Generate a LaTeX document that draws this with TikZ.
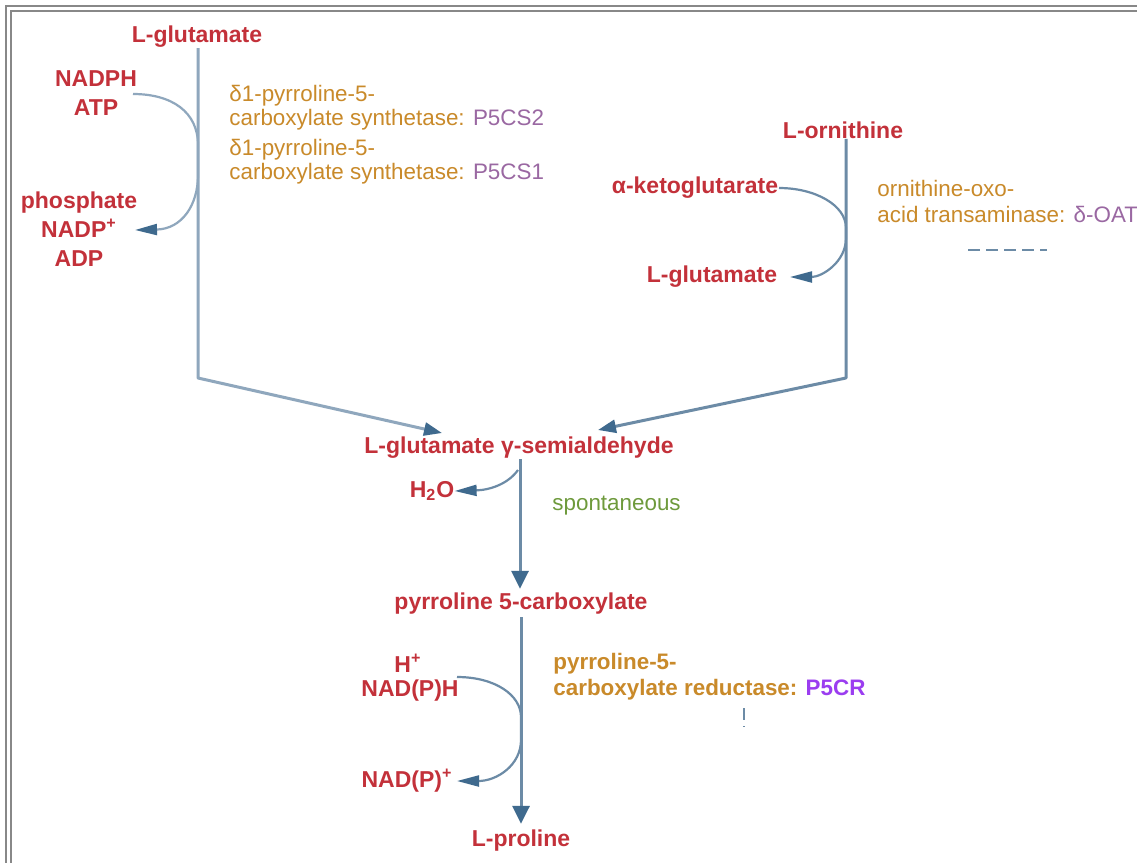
\documentclass[tikz,border=0pt]{standalone}
\usepackage{fontspec}
\setmainfont{Liberation Sans}
\usetikzlibrary{arrows.meta}

\definecolor{metab}{HTML}{C3313A}
\definecolor{enz}{HTML}{C98A2A}
\definecolor{gene}{HTML}{9A68A2}
\definecolor{genebright}{HTML}{9B3DF0}
\definecolor{spont}{HTML}{6E9A3C}
\definecolor{flowline}{HTML}{6C8BA6}
\definecolor{flowlight}{HTML}{8FA7BD}
\definecolor{tipc}{HTML}{3F6A8E}
\definecolor{frame}{HTML}{888888}

\begin{document}
\begin{tikzpicture}[x=0.5pt,y=-0.5pt,
  metabolite/.style={font=\bfseries\fontsize{11.5}{14.5}\selectfont, text=metab, inner sep=0pt, align=center},
  enzyme/.style={font=\fontsize{11.2}{12}\selectfont, text=enz, inner sep=0pt, align=left, anchor=west},
  flow/.style={draw=flowline, line width=1.5pt, line join=round,
    -{Triangle[length=9pt,width=8.5pt,color=tipc,fill=tipc]}},
  slant/.style={draw=flowline, line width=1.5pt, line join=round,
    -{Triangle[length=9pt,width=6.5pt,color=tipc,fill=tipc]}},
  side/.style={draw=flowline, line width=1.1pt,
    -{Triangle[length=11pt,width=5.5pt,color=tipc,fill=tipc]}},
  tickmark/.style={draw=flowline, line width=0.8pt, dash pattern=on 6pt off 3pt},
  frameline/.style={draw=frame, line width=1pt}]

\useasboundingbox (0,0) rectangle (1137,863);
\fill[white] (0,0) rectangle (1137,863);

% double frame, open to the right and bottom
\draw[frameline] (6,863) -- (6,6) -- (1137,6);
\draw[frameline] (11,863) -- (11,11) -- (1137,11);

% ---------- metabolites ----------
\node[metabolite] (glu)   at (197,37)  {L-glutamate};
\node[metabolite] (cofin) at (96,93)   {NADPH\\ATP};
\node[metabolite] (cofout) at (79,229) {phosphate\\NADP\textsuperscript{+}\\ADP};

\node[metabolite] (orn)   at (843,130) {L-ornithine};
\node[metabolite] (akg)   at (695,188) {α-ketoglutarate};
\node[metabolite] (glu2)  at (712,277) {L-glutamate};

\node[metabolite] (gsa)   at (519,448) {L-glutamate γ-semialdehyde};
\node[metabolite] (water) at (432,491) {H\textsubscript{2}O};
\node[metabolite] (p5c)   at (521,604) {pyrroline 5-carboxylate};

\node[metabolite] (hplus) at (408,663) {H\textsuperscript{+}};
\node[metabolite] (nadph) at (410,691) {NAD(P)H};
\node[metabolite] (nadp)  at (407,781) {NAD(P)\textsuperscript{+}};
\node[metabolite] (pro)   at (521,841) {L-proline};

% ---------- enzymes ----------
\node[enzyme] (p5cs2) at (229,108) {δ1-pyrroline-5-\\carboxylate synthetase: \textcolor{gene}{P5CS2}};
\node[enzyme] (p5cs1) at (229,162) {δ1-pyrroline-5-\\carboxylate synthetase: \textcolor{gene}{P5CS1}};
\node[enzyme, font=\fontsize{11.2}{13}\selectfont] (oat) at (877,201) {ornithine-oxo-\\acid transaminase: \textcolor{gene}{δ-OAT}};
\node[enzyme, text=spont] (spon) at (552,506) {spontaneous};
\node[enzyme, font=\bfseries\fontsize{11.2}{13}\selectfont] (p5cr) at (553,677)
  {pyrroline-5-\\carboxylate reductase: \textcolor{genebright}{P5CR}};

% ---------- branch from L-glutamate ----------
\coordinate (lcorner) at (198,378);
\coordinate (ltip)    at (442,433);
\draw[slant, draw=flowlight] (glu.south -| lcorner) -- (lcorner) -- (ltip);

\coordinate (c1a) at (133,94);
\coordinate (c1b) at (135,230);
\draw[side, draw=flowlight] (c1a) .. controls (172,94) and (198,112) .. (198,145)
  -- (198,175) .. controls (198,205) and (182,229) .. (c1b);

% ---------- branch from L-ornithine ----------
\coordinate (rcorner) at (846,378);
\coordinate (rtip)    at (598,430);
\draw[slant] (orn.south -| rcorner) -- (rcorner) -- (rtip);

\coordinate (c2a) at (779,188);
\coordinate (c2b) at (790,277);
\draw[side] (c2a) .. controls (815,188) and (846,205) .. (846,228)
  -- (846,238) .. controls (846,262) and (822,277) .. (c2b);
\draw[tickmark] (968,250) -- (1047,250);

% ---------- cyclisation ----------
\draw[flow] (gsa.south -| 520,0) -- ([yshift=2pt]p5c.north -| 520,0);
\coordinate (c3a) at (518,470);
\draw[side] (c3a) .. controls (508,484) and (490,490) .. (water.east);

% ---------- reduction ----------
\draw[flow] ([yshift=-1pt]p5c.south -| 521,0) -- ([yshift=3pt]pro.north -| 521,0);
\coordinate (c4a) at (457,677);
\coordinate (c4b) at (457,781);
\draw[side] (c4a) .. controls (495,677) and (521,695) .. (521,717)
  -- (521,740) .. controls (521,765) and (497,781) .. (c4b);
\draw[tickmark] (744,708) -- (744,727);

\end{tikzpicture}
\end{document}
